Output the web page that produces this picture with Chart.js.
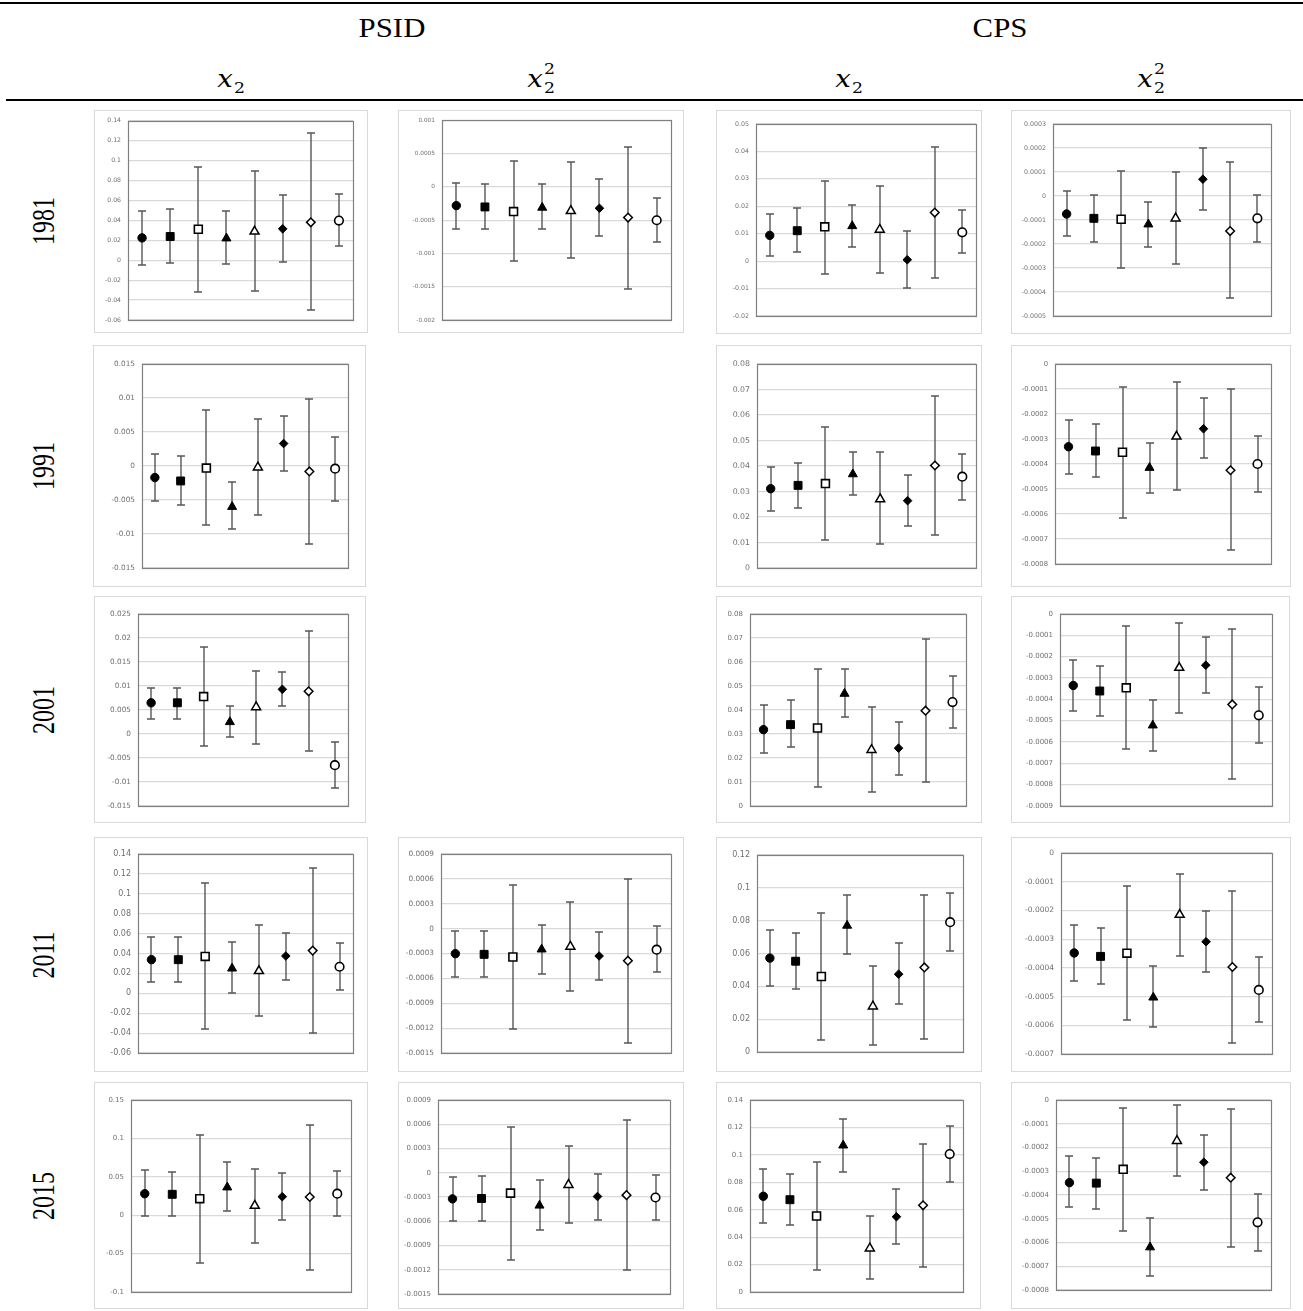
<!DOCTYPE html>
<html>
<head>
<meta charset="utf-8">
<script src="https://cdn.jsdelivr.net/npm/chart.js@4.4.1/dist/chart.umd.min.js"></script>
<style>
  html, body { margin: 0; padding: 0; background: #fff; }
  body { position: relative; width: 1303px; height: 1311px; overflow: hidden; }
  .rule { position: absolute; height: 2px; background: #000; }
  .src { position: absolute; font-family: 'Liberation Serif', 'Times New Roman', serif; color: #000;
         font-size: 28px; line-height: 1; white-space: nowrap;
         transform: translate(-50%, -50%) scaleX(1.1); }
  .math { position: absolute; font-family: 'DejaVu Serif', serif; color: #000; font-size: 24px;
          line-height: 40px; height: 40px; white-space: nowrap; transform: translateX(-50%) scaleX(1.15); }
  .math i { font-style: italic; }
  .sb { display: inline-block; font-size: 15px; line-height: 20px; vertical-align: -6px; margin-left: 1px; font-style: normal; }
  .ss { display: inline-block; font-size: 15px; line-height: 19px; vertical-align: -6px; margin-left: 1px; text-align: left; }
  .rowlab { position: absolute; font-family: 'Liberation Serif', 'Times New Roman', serif; font-size: 24px;
            color: #000; transform: translate(-50%, -50%) rotate(-90deg) scale(1, 1.3); white-space: nowrap; line-height: 1; }
  .panel { position: absolute; }
  .panel canvas { display: block; }
</style>
</head>
<body>
<div class="rule" style="left:0;top:2px;width:1303px"></div>
<div class="rule" style="left:6px;top:99px;width:1297px"></div>
<div class="src" style="left:392px;top:28px">PSID</div>
<div class="src" style="left:1000px;top:28px">CPS</div>
<div class="math" style="left:231px;top:59px"><i>x</i><span class="sb">2</span></div>
<div class="math" style="left:541px;top:59px"><i>x</i><span class="ss">2<br>2</span></div>
<div class="math" style="left:849px;top:59px"><i>x</i><span class="sb">2</span></div>
<div class="math" style="left:1151px;top:59px"><i>x</i><span class="ss">2<br>2</span></div>
<div class="rowlab" style="left:44px;top:221px">1981</div>
<div class="rowlab" style="left:44px;top:466px">1991</div>
<div class="rowlab" style="left:44px;top:710px">2001</div>
<div class="rowlab" style="left:44px;top:955px">2011</div>
<div class="rowlab" style="left:44px;top:1196px">2015</div>

<script>
// ---------- categories (8 estimates per panel) ----------
const methods = ['1', '2', '3', '4', '5', '6', '7', '8'];

// ---------- 1981 ----------
const psid1981_x2    = [0.0224, 0.0238, 0.0311, 0.0220, 0.0288, 0.0315, 0.0380, 0.0398];
const psid1981_x2_hi = [0.0495, 0.0509, 0.0940, 0.0490, 0.0894, 0.0656, 0.1280, 0.0666];
const psid1981_x2_lo = [-0.0050, -0.0024, -0.0320, -0.0037, -0.0308, -0.0017, -0.0500, 0.0144];
const psid1981_x2_axis = [-0.06, 0.14, 0.02];

const psid1981_sq    = [-0.00028, -0.00030, -0.00037, -0.00031, -0.00036, -0.00032, -0.00046, -0.00050];
const psid1981_sq_hi = [0.00006, 0.00004, 0.00039, 0.00004, 0.00037, 0.00012, 0.00060, -0.00016];
const psid1981_sq_lo = [-0.00063, -0.00063, -0.00112, -0.00063, -0.00107, -0.00074, -0.00153, -0.00083];
const psid1981_sq_axis = [-0.002, 0.001, 0.0005];

const cps1981_x2    = [0.0094, 0.0111, 0.0125, 0.0128, 0.0115, 0.0005, 0.0177, 0.0105];
const cps1981_x2_hi = [0.0172, 0.0195, 0.0293, 0.0205, 0.0275, 0.0109, 0.0416, 0.0188];
const cps1981_x2_lo = [0.0017, 0.0034, -0.0047, 0.0051, -0.0044, -0.0098, -0.0062, 0.0028];
const cps1981_x2_axis = [-0.02, 0.05, 0.01];

const cps1981_sq    = [-0.000075, -0.000093, -0.000097, -0.000118, -0.000093, 0.000070, -0.000146, -0.000093];
const cps1981_sq_hi = [0.000019, 0.0000025, 0.000106, -0.000025, 0.000100, 0.000198, 0.000140, 0.0000025];
const cps1981_sq_lo = [-0.000168, -0.000191, -0.000300, -0.000214, -0.000284, -0.000057, -0.000427, -0.000191];
const cps1981_sq_axis = [-0.0005, 0.0003, 0.0001];

// ---------- 1991 ----------
const psid1991_x2    = [-0.0017, -0.0022, -0.0003, -0.0060, -0.0002, 0.0033, -0.0008, -0.0004];
const psid1991_x2_hi = [0.0017, 0.0014, 0.0082, -0.0024, 0.0069, 0.0074, 0.0098, 0.0042];
const psid1991_x2_lo = [-0.0052, -0.0058, -0.0087, -0.0093, -0.0072, -0.0008, -0.0115, -0.0051];
const psid1991_x2_axis = [-0.015, 0.015, 0.005];

const cps1991_x2    = [0.0311, 0.0324, 0.0331, 0.0368, 0.0270, 0.0264, 0.0402, 0.0358];
const cps1991_x2_hi = [0.0397, 0.0411, 0.0553, 0.0453, 0.0455, 0.0364, 0.0675, 0.0449];
const cps1991_x2_lo = [0.0223, 0.0237, 0.0110, 0.0286, 0.0093, 0.0164, 0.0128, 0.0267];
const cps1991_x2_axis = [0, 0.08, 0.01];

const cps1991_sq    = [-0.000331, -0.000348, -0.000353, -0.000415, -0.000290, -0.000259, -0.000425, -0.000400];
const cps1991_sq_hi = [-0.000224, -0.000241, -0.000091, -0.000315, -0.000073, -0.000137, -0.000101, -0.000288];
const cps1991_sq_lo = [-0.000439, -0.000451, -0.000615, -0.000515, -0.000504, -0.000377, -0.000744, -0.000512];
const cps1991_sq_axis = [-0.0008, 0, 0.0001];

// ---------- 2001 ----------
const psid2001_x2    = [0.0065, 0.0065, 0.0078, 0.0025, 0.0056, 0.0093, 0.0089, -0.0065];
const psid2001_x2_hi = [0.0096, 0.0096, 0.0182, 0.0058, 0.0132, 0.0129, 0.0215, -0.0017];
const psid2001_x2_lo = [0.0032, 0.0032, -0.0025, -0.0007, -0.0020, 0.0058, -0.0036, -0.0113];
const psid2001_x2_axis = [-0.015, 0.025, 0.005];

const cps2001_x2    = [0.0318, 0.0339, 0.0325, 0.0468, 0.0234, 0.0241, 0.0397, 0.0433];
const cps2001_x2_hi = [0.0419, 0.0440, 0.0570, 0.0572, 0.0414, 0.0349, 0.0696, 0.0541];
const cps2001_x2_lo = [0.0220, 0.0244, 0.0078, 0.0371, 0.0057, 0.0130, 0.0102, 0.0324];
const cps2001_x2_axis = [0, 0.08, 0.01];

const cps2001_sq    = [-0.000335, -0.000361, -0.000346, -0.000522, -0.000252, -0.000240, -0.000424, -0.000475];
const cps2001_sq_hi = [-0.000216, -0.000243, -0.000055, -0.000402, -0.000042, -0.000109, -0.000072, -0.000344];
const cps2001_sq_lo = [-0.000453, -0.000478, -0.000634, -0.000642, -0.000462, -0.000371, -0.000772, -0.000603];
const cps2001_sq_axis = [-0.0009, 0, 0.0001];

// ---------- 2011 ----------
const psid2011_x2    = [0.0338, 0.0338, 0.0371, 0.0250, 0.0224, 0.0375, 0.0429, 0.0267];
const psid2011_x2_hi = [0.0570, 0.0570, 0.1104, 0.0513, 0.0684, 0.0610, 0.1259, 0.0509];
const psid2011_x2_lo = [0.0113, 0.0113, -0.0361, 0.0008, -0.0224, 0.0129, -0.0402, 0.0035];
const psid2011_x2_axis = [-0.06, 0.14, 0.02];

const psid2011_sq    = [-0.000302, -0.000310, -0.000342, -0.000250, -0.000217, -0.000330, -0.000387, -0.000254];
const psid2011_sq_hi = [-0.000028, -0.000028, 0.000529, 0.000045, 0.000327, -0.000036, 0.000600, 0.000037];
const psid2011_sq_lo = [-0.000580, -0.000580, -0.001206, -0.000552, -0.000750, -0.000617, -0.001380, -0.000528];
const psid2011_sq_axis = [-0.0015, 0.0009, 0.0003];

const cps2011_x2    = [0.0572, 0.0553, 0.0460, 0.0770, 0.0278, 0.0474, 0.0515, 0.0791];
const cps2011_x2_hi = [0.0742, 0.0724, 0.0845, 0.0955, 0.0521, 0.0663, 0.0957, 0.0967];
const cps2011_x2_lo = [0.0405, 0.0385, 0.0073, 0.0598, 0.0045, 0.0290, 0.0077, 0.0614];
const cps2011_x2_axis = [0, 0.12, 0.02];

const cps2011_sq    = [-0.000348, -0.000360, -0.000349, -0.000503, -0.000215, -0.000309, -0.000397, -0.000477];
const cps2011_sq_hi = [-0.000250, -0.000261, -0.000116, -0.000392, -0.000072, -0.000203, -0.000131, -0.000363];
const cps2011_sq_lo = [-0.000447, -0.000457, -0.000583, -0.000607, -0.000359, -0.000413, -0.000662, -0.000589];
const cps2011_sq_axis = [-0.0007, 0, 0.0001];

// ---------- 2015 ----------
const psid2015_x2    = [0.0280, 0.0272, 0.0215, 0.0363, 0.0124, 0.0241, 0.0237, 0.0280];
const psid2015_x2_hi = [0.0585, 0.0564, 0.1043, 0.0690, 0.0607, 0.0546, 0.1169, 0.0572];
const psid2015_x2_lo = [-0.0007, -0.0007, -0.0617, 0.0050, -0.0364, -0.0059, -0.0717, -0.0007];
const psid2015_x2_axis = [-0.1, 0.15, 0.05];

const psid2015_sq    = [-0.000323, -0.000318, -0.000252, -0.000405, -0.000149, -0.000294, -0.000277, -0.000306];
const psid2015_sq_hi = [-0.000054, -0.000046, 0.000570, -0.000091, 0.000335, -0.000017, 0.000652, -0.000033];
const psid2015_sq_lo = [-0.000600, -0.000591, -0.001075, -0.000707, -0.000616, -0.000579, -0.001207, -0.000579];
const psid2015_sq_axis = [-0.0015, 0.0009, 0.0003];

const cps2015_x2    = [0.0698, 0.0673, 0.0554, 0.1069, 0.0318, 0.0549, 0.0632, 0.1006];
const cps2015_x2_hi = [0.0897, 0.0858, 0.0950, 0.1264, 0.0552, 0.0749, 0.1082, 0.1213];
const cps2015_x2_lo = [0.0506, 0.0491, 0.0160, 0.0873, 0.0095, 0.0352, 0.0182, 0.0802];
const cps2015_x2_axis = [0, 0.14, 0.02];

const cps2015_sq    = [-0.000348, -0.000350, -0.000292, -0.000620, -0.000172, -0.000262, -0.000327, -0.000515];
const cps2015_sq_hi = [-0.000237, -0.000246, -0.000032, -0.000498, -0.000021, -0.000149, -0.000038, -0.000395];
const cps2015_sq_lo = [-0.000452, -0.000459, -0.000550, -0.000740, -0.000318, -0.000378, -0.000618, -0.000634];
const cps2015_sq_axis = [-0.0008, 0, 0.0001];

// ---------- marker styles (one per estimate) ----------
const markerStyle  = ['circle', 'rect', 'rect', 'triangle', 'triangle', 'rectRot', 'rectRot', 'circle'];
const markerFill   = ['#000', '#000', '#fff', '#000', '#fff', '#000', '#fff', '#fff'];
const markerRadius = [4.2, 5.6, 5.6, 5.2, 5.2, 4.3, 4.3, 4.3];
const markerBorder = [1, 1, 1.6, 1, 1.5, 1, 1.5, 1.6];

// ---------- panel geometry: [outerL, outerT, outerR, outerB, plotL, plotT, plotR, plotB, tickFont] ----------
const panels = [
  [[94, 110, 368, 333, 128, 120, 353, 320, 6.2],  psid1981_x2, psid1981_x2_lo, psid1981_x2_hi, psid1981_x2_axis],
  [[398, 110, 684, 333, 442, 120, 671, 320, 5.8], psid1981_sq, psid1981_sq_lo, psid1981_sq_hi, psid1981_sq_axis],
  [[716, 110, 982, 334, 756, 124, 976, 316, 6.3], cps1981_x2, cps1981_x2_lo, cps1981_x2_hi, cps1981_x2_axis],
  [[1011, 110, 1291, 334, 1053, 124, 1271, 316, 6.3], cps1981_sq, cps1981_sq_lo, cps1981_sq_hi, cps1981_sq_axis],

  [[93, 345, 366, 587, 142, 364, 348, 568, 7.3], psid1991_x2, psid1991_x2_lo, psid1991_x2_hi, psid1991_x2_axis],
  [[716, 345, 982, 587, 757, 364, 976, 568, 7.8], cps1991_x2, cps1991_x2_lo, cps1991_x2_hi, cps1991_x2_axis],
  [[1011, 345, 1291, 587, 1055, 364, 1271, 564, 6.8], cps1991_sq, cps1991_sq_lo, cps1991_sq_hi, cps1991_sq_axis],

  [[94, 596, 366, 823, 138, 614, 348, 806, 7.3], psid2001_x2, psid2001_x2_lo, psid2001_x2_hi, psid2001_x2_axis],
  [[716, 596, 982, 823, 750, 614, 966, 806, 7.0], cps2001_x2, cps2001_x2_lo, cps2001_x2_hi, cps2001_x2_axis],
  [[1011, 596, 1290, 823, 1060, 614, 1272, 806, 7.0], cps2001_sq, cps2001_sq_lo, cps2001_sq_hi, cps2001_sq_axis],

  [[94, 837, 368, 1072, 138, 854, 353, 1053, 8.0], psid2011_x2, psid2011_x2_lo, psid2011_x2_hi, psid2011_x2_axis],
  [[398, 837, 684, 1072, 441, 854, 671, 1053, 7.3], psid2011_sq, psid2011_sq_lo, psid2011_sq_hi, psid2011_sq_axis],
  [[716, 837, 982, 1072, 757, 855, 963, 1052, 8.0], cps2011_x2, cps2011_x2_lo, cps2011_x2_hi, cps2011_x2_axis],
  [[1011, 837, 1291, 1072, 1061, 853, 1272, 1054, 7.5], cps2011_sq, cps2011_sq_lo, cps2011_sq_hi, cps2011_sq_axis],

  [[94, 1082, 368, 1309, 131, 1100, 351, 1292, 7.0], psid2015_x2, psid2015_x2_lo, psid2015_x2_hi, psid2015_x2_axis],
  [[398, 1082, 684, 1309, 438, 1100, 670, 1294, 7.0], psid2015_sq, psid2015_sq_lo, psid2015_sq_hi, psid2015_sq_axis],
  [[716, 1082, 981, 1309, 750, 1100, 963, 1292, 7.0], cps2015_x2, cps2015_x2_lo, cps2015_x2_hi, cps2015_x2_axis],
  [[1011, 1082, 1291, 1309, 1056, 1100, 1271, 1290, 7.0], cps2015_sq, cps2015_sq_lo, cps2015_sq_hi, cps2015_sq_axis],
];

function tickValues(axis) {
  const [mn, mx, st] = axis;
  const n = Math.round((mx - mn) / st);
  const out = [];
  for (let i = 0; i <= n; i++) out.push(Math.round((mn + i * st) * 1e9) / 1e9);
  return out;
}
function fmt(v) {
  const r = Math.round(v * 1e9) / 1e9;
  return r === 0 ? '0' : String(r);
}

const panelPlugin = {
  id: 'panelDecor',
  beforeDraw(chart) {
    const { ctx, width, height } = chart;
    ctx.save();
    ctx.strokeStyle = '#d9d9d9';
    ctx.lineWidth = 1;
    ctx.strokeRect(0.5, 0.5, width - 1, height - 1);
    ctx.restore();
  },
  beforeDatasetsDraw(chart) {
    const { ctx } = chart;
    const ds = chart.data.datasets[0];
    const meta = chart.getDatasetMeta(0);
    const ys = chart.scales.y;
    ctx.save();
    ctx.strokeStyle = '#575757';
    ctx.lineWidth = 1.4;
    meta.data.forEach((pt, i) => {
      const x = Math.round(pt.x);
      const yh = Math.round(ys.getPixelForValue(ds.errHi[i]));
      const yl = Math.round(ys.getPixelForValue(ds.errLo[i]));
      ctx.beginPath();
      ctx.moveTo(x, yh); ctx.lineTo(x, yl);
      ctx.moveTo(x - 4, yh); ctx.lineTo(x + 4, yh);
      ctx.moveTo(x - 4, yl); ctx.lineTo(x + 4, yl);
      ctx.stroke();
    });
    ctx.restore();
  },
  afterDraw(chart) {
    const { ctx, chartArea: a } = chart;
    ctx.save();
    ctx.strokeStyle = '#808080';
    ctx.lineWidth = 1.2;
    ctx.strokeRect(Math.round(a.left) + 0.5, Math.round(a.top) + 0.5,
                   Math.round(a.right - a.left), Math.round(a.bottom - a.top));
    ctx.restore();
  }
};

panels.forEach(([g, vals, lo, hi, axis]) => {
  const [oL, oT, oR, oB, pL, pT, pR, pB, fs] = g;
  const w = oR - oL, h = oB - oT;
  const div = document.createElement('div');
  div.className = 'panel';
  div.style.left = oL + 'px'; div.style.top = oT + 'px';
  div.style.width = w + 'px'; div.style.height = h + 'px';
  const cv = document.createElement('canvas');
  cv.width = w; cv.height = h;
  cv.style.width = w + 'px'; cv.style.height = h + 'px';
  div.appendChild(cv);
  document.body.appendChild(div);
  const ticksArr = tickValues(axis);
  new Chart(cv, {
    type: 'line',
    data: {
      labels: methods,
      datasets: [{
        data: vals,
        errLo: lo,
        errHi: hi,
        showLine: false,
        pointStyle: markerStyle,
        pointRadius: markerRadius,
        pointHoverRadius: markerRadius,
        pointBackgroundColor: markerFill,
        pointBorderColor: '#000',
        pointBorderWidth: markerBorder
      }]
    },
    options: {
      responsive: false,
      animation: false,
      devicePixelRatio: 1,
      events: [],
      layout: { padding: { left: 0, top: pT - oT, right: oR - pR, bottom: oB - pB } },
      plugins: { legend: { display: false }, tooltip: { enabled: false } },
      scales: {
        x: { type: 'category', offset: true, display: false },
        y: {
          type: 'linear',
          min: axis[0], max: axis[1],
          afterFit: (s) => { s.width = pL - oL; },
          afterBuildTicks: (s) => { s.ticks = ticksArr.map(v => ({ value: v })); },
          grid: { color: '#d9d9d9', lineWidth: 1.2, drawTicks: false },
          border: { display: false },
          ticks: {
            padding: 7,
            color: '#707070',
            font: { family: "'DejaVu Sans', sans-serif", size: fs },
            callback: (v) => fmt(v)
          }
        }
      }
    },
    plugins: [panelPlugin]
  });
});
</script>
</body>
</html>
